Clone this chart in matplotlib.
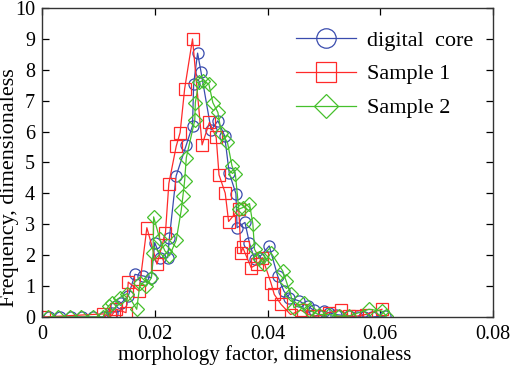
import matplotlib
matplotlib.use("Agg")
import matplotlib.pyplot as plt

# digital core
core_x = [0.0012, 0.0032, 0.0051, 0.0071, 0.0090, 0.0110, 0.0124, 0.0132, 0.0141, 0.0153,
          0.0165, 0.0179, 0.0194, 0.0200, 0.0210, 0.0223, 0.0226, 0.0238, 0.0256, 0.0267,
          0.0269, 0.0276, 0.0282, 0.0300, 0.0312, 0.0324, 0.0332, 0.0344, 0.0346, 0.0360,
          0.0368, 0.0377, 0.0385, 0.0403, 0.0418, 0.0429, 0.0438, 0.0456, 0.0471, 0.0482,
          0.0500, 0.0509, 0.0521, 0.0544, 0.0559, 0.0571, 0.0585, 0.0609]
core_y = [0, 0, 0, 0, 0, 0, 0.14, 0.36, 0.46, 0.68,
          1.38, 1.33, 1.27, 2.41, 1.92, 1.92, 2.57, 4.57, 5.57, 6.19,
          7.54, 8.54, 7.94, 6.05, 6.35, 5.86, 4.67, 3.99, 2.89, 3.06,
          2.39, 1.87, 1.92, 2.30, 1.33, 0.84, 0.63, 0.52, 0.36, 0.22,
          0.19, 0.14, 0.08, 0.03, 0, 0, 0, 0.03]

# Sample 1
s1_x = [0.0003, 0.0109, 0.0121, 0.0132, 0.0149, 0.0153, 0.0172, 0.0186, 0.0204, 0.0219,
        0.0225, 0.0238, 0.0245, 0.0253, 0.0267, 0.0284, 0.0297, 0.0309, 0.0314, 0.0325,
        0.0331, 0.0349, 0.0353, 0.0356, 0.0371, 0.0382, 0.0391, 0.0406, 0.0412, 0.0424,
        0.0441, 0.0459, 0.0479, 0.0491, 0.0509, 0.0530, 0.0544, 0.0559, 0.0574, 0.0603]
s1_y = [0, 0.10, 0, 0.25, 0.14, 1.13, 0.84, 2.89, 1.71, 2.73,
        4.32, 5.52, 5.97, 7.38, 9.0, 5.57, 6.30, 5.81, 4.60, 4.01,
        3.09, 3.49, 2.06, 2.25, 1.60, 1.71, 1.92, 1.11, 0.73, 0.41,
        0.08, 0.22, 0.03, 0.03, 0.14, 0.22, 0.03, 0.03, 0.08, 0.25]

# Sample 2
s2_x = [0.0011, 0.0029, 0.0050, 0.0070, 0.0090, 0.0108, 0.0118, 0.0125, 0.0138, 0.0151,
        0.0168, 0.0174, 0.0185, 0.0194, 0.0197, 0.0198, 0.0209, 0.0218, 0.0226, 0.0238,
        0.0247, 0.0250, 0.0253, 0.0256, 0.0271, 0.0272, 0.0278, 0.0285, 0.0296, 0.0303,
        0.0312, 0.0318, 0.0329, 0.0337, 0.0343, 0.0349, 0.0356, 0.0368, 0.0374, 0.0377,
        0.0385, 0.0394, 0.0406, 0.0427, 0.0433, 0.0441, 0.0447, 0.0465, 0.0474, 0.0491,
        0.0509, 0.0527, 0.0544, 0.0580, 0.0603, 0.0611]
s2_y = [0, 0, 0, 0, 0, 0, 0.36, 0.46, 0.63, 0.76,
        0.25, 1.11, 1.00, 1.27, 2.08, 3.24, 2.52, 2.14, 1.98, 2.48,
        3.46, 3.92, 4.41, 5.16, 6.37, 6.94, 7.59, 7.65, 7.54, 6.94,
        6.62, 5.97, 5.65, 4.89, 4.62, 3.49, 3.54, 3.67, 3.02, 2.19,
        1.92, 1.71, 2.08, 1.49, 1.17, 0.73, 0.30, 0.46, 0.22, 0.08,
        0.08, 0.03, 0.03, 0.25, 0.19, 0.03]

xticks = [0, 0.02, 0.04, 0.06, 0.08]
xticklabels = ["0", "0.02", "0.04", "0.06", "0.08"]
yticks = list(range(0, 11))
series_labels = ['digital  core', 'Sample 1', 'Sample 2']
xlabel_text = 'morphology factor, dimensionaless'
ylabel_text = 'Frequency, dimensionaless'

plt.rcParams['font.family'] = ['Liberation Serif', 'DejaVu Serif']

W, H = 512, 366
fig = plt.figure(figsize=(W / 100, H / 100), dpi=100)
ax = fig.add_axes([42 / W, 1 - 317 / H, (493 - 42) / W, (317 - 8) / H])

blue = '#3a4cae'
red = '#ff2a2a'
green = '#46c02c'
ms = 8
l1, = ax.plot(core_x, core_y, '-', color=blue, lw=0.9, marker='o', ms=ms, mfc='none', mew=0.9)
l2, = ax.plot(s1_x, s1_y, '-', color=red, lw=0.9, marker='s', ms=ms, mfc='none', mew=0.9)
l3, = ax.plot(s2_x, s2_y, '-', color=green, lw=0.9, marker='D', ms=ms * 0.85, mfc='none', mew=0.9)

ax.set_xlim(0, 0.08)
ax.set_ylim(0, 10)
ax.set_xticks(xticks)
ax.set_xticklabels(xticklabels)
ax.set_yticks(yticks)
ax.tick_params(direction='in', top=True, right=True, labelsize=14.5, length=5, width=0.9)
ax.tick_params(axis='x', pad=6)
ax.tick_params(axis='y', pad=5)
for s in ax.spines.values():
    s.set_linewidth(1.0)
    s.set_color('#333333')

fig.text(265 / W, 1 - 360 / H, xlabel_text, ha='center', va='baseline', fontsize=15)
fig.text(10 / W, 1 - 188 / H, ylabel_text, ha='center', va='center', rotation=90, fontsize=16)

leg = ax.legend([l1, l2, l3], series_labels, loc='upper left',
                bbox_to_anchor=(296 / W, 1 - 30 / H), bbox_transform=fig.transFigure,
                frameon=False, fontsize=16, handlelength=2.7, markerscale=1.75,
                labelspacing=0.6, borderpad=0, borderaxespad=0, handletextpad=0.5)

fig.savefig('out.png', dpi=100)
